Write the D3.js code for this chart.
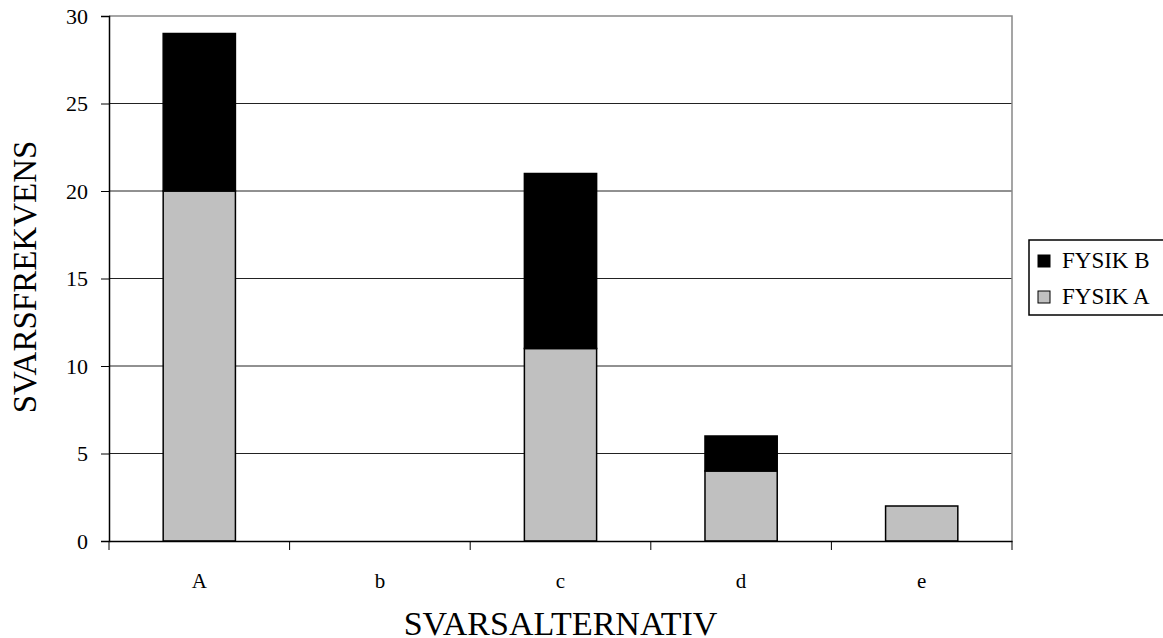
<!DOCTYPE html>
<html>
<head>
<meta charset="utf-8">
<script src="https://cdn.jsdelivr.net/npm/d3@7"></script>
<style>
  body { margin: 0; background: #fff; }
  svg, svg text { font-family: "Liberation Serif", "DejaVu Serif", serif; }
  svg { display: block; }
</style>
</head>
<body>
<script>
// categories and series values
var categories = ["A", "b", "c", "d", "e"];
var fysikA = [20, 0, 11, 4, 2];
var fysikB = [9, 0, 10, 2, 0];
var seriesNames = ["FYSIK A", "FYSIK B"];
var yTicks = [0, 5, 10, 15, 20, 25, 30];

var width = 1163, height = 638;
var plotLeft = 109, plotRight = 1012, plotTop = 16, plotBottom = 541;

var rows = categories.map(function(c, i) {
    return {cat: c, "FYSIK A": fysikA[i], "FYSIK B": fysikB[i]};
});
var stacked = d3.stack().keys(seriesNames)(rows);
var colors = {"FYSIK A": "#c0c0c0", "FYSIK B": "#000000"};

var svg = d3.select("body").append("svg")
    .attr("width", width)
    .attr("height", height);

var x = d3.scaleBand().domain(categories).range([plotLeft, plotRight]).paddingInner(0).paddingOuter(0);
var y = d3.scaleLinear().domain([0, 30]).range([plotBottom, plotTop]);
var barW = x.bandwidth() * 0.4;

// gridlines
svg.append("g")
    .selectAll("line")
    .data(yTicks.filter(function(d) { return d > 0 && d < 30; }))
    .enter()
    .append("line")
    .attr("x1", plotLeft).attr("x2", plotRight)
    .attr("y1", function(d) { return y(d); })
    .attr("y2", function(d) { return y(d); })
    .attr("stroke", "#222")
    .attr("stroke-width", 1);

// plot frame top and right (gray)
svg.append("path")
    .attr("d", "M" + plotLeft + "," + y(30) + "H" + plotRight + "V" + plotBottom)
    .attr("fill", "none")
    .attr("stroke", "#888")
    .attr("stroke-width", 1.5);

// bars
svg.append("g")
    .selectAll("g")
    .data(stacked)
    .enter()
    .append("g")
    .attr("fill", function(s) { return colors[s.key]; })
    .selectAll("rect")
    .data(function(s) { return s.filter(function(d) { return d[1] - d[0] > 0; }); })
    .enter()
    .append("rect")
    .attr("x", function(d) { return x(d.data.cat) + (x.bandwidth() - barW) / 2; })
    .attr("y", function(d) { return y(d[1]); })
    .attr("width", barW)
    .attr("height", function(d) { return y(d[0]) - y(d[1]); })
    .attr("stroke", "#000")
    .attr("stroke-width", 1.5);

// y axis
var yAxis = svg.append("g")
    .attr("transform", "translate(" + plotLeft + ",0)")
    .call(d3.axisLeft(y).tickValues(yTicks).tickSize(8).tickPadding(13));
yAxis.select(".domain").attr("stroke", "#000").attr("stroke-width", 1.5);
yAxis.selectAll(".tick line").attr("stroke", "#000");
yAxis.selectAll("text")
    .style("font-family", "'Liberation Serif', serif")
    .style("font-size", "22px")
    .attr("fill", "#000");

// x axis
var xAxis = svg.append("g")
    .attr("transform", "translate(0," + plotBottom + ")")
    .call(d3.axisBottom(x).tickSize(0).tickPadding(32));
xAxis.select(".domain").attr("stroke", "#000").attr("stroke-width", 1.5);
xAxis.selectAll("text")
    .style("font-family", "'Liberation Serif', serif")
    .style("font-size", "21px")
    .attr("fill", "#000");

// x boundary ticks between categories
svg.append("g")
    .selectAll("line")
    .data(d3.range(categories.length + 1))
    .enter()
    .append("line")
    .attr("x1", function(i) { return plotLeft + i * x.bandwidth(); })
    .attr("x2", function(i) { return plotLeft + i * x.bandwidth(); })
    .attr("y1", plotBottom)
    .attr("y2", plotBottom + 9)
    .attr("stroke", "#000");

// axis titles
svg.append("text")
    .attr("x", (plotLeft + plotRight) / 2)
    .attr("y", 635)
    .attr("text-anchor", "middle")
    .style("font-size", "34px")
    .text("SVARSALTERNATIV");

svg.append("text")
    .attr("transform", "translate(36,277) rotate(-90)")
    .attr("text-anchor", "middle")
    .style("font-size", "33px")
    .text("SVARSFREKVENS");

// legend
var legend = svg.append("g").attr("transform", "translate(1029,240)");
legend.append("rect")
    .attr("width", 150).attr("height", 75)
    .attr("fill", "#fff")
    .attr("stroke", "#000")
    .attr("stroke-width", 1.5);
var legendItems = ["FYSIK B", "FYSIK A"];
var li = legend.selectAll("g.item")
    .data(legendItems)
    .enter()
    .append("g")
    .attr("class", "item")
    .attr("transform", function(d, i) { return "translate(9," + (21 + i * 36) + ")"; });
li.append("rect")
    .attr("x", 0).attr("y", -6)
    .attr("width", 12).attr("height", 12)
    .attr("fill", function(d) { return colors[d]; })
    .attr("stroke", "#000")
    .attr("stroke-width", 1);
li.append("text")
    .attr("x", 24)
    .attr("y", 7)
    .style("font-size", "23px")
    .style("font-family", "'Liberation Serif', serif")
    .text(function(d) { return d; });
</script>
</body>
</html>
